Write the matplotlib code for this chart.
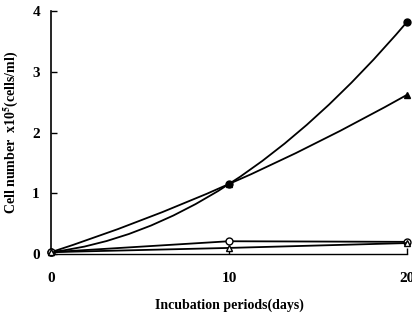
import numpy as np
import matplotlib
matplotlib.use("Agg")
import matplotlib.pyplot as plt
from matplotlib.path import Path
from matplotlib.patches import PathPatch

plt.rcParams["font.family"] = ["Liberation Serif", "DejaVu Serif"]
plt.rcParams["font.weight"] = "bold"

# incubation periods (days) and cell counts
days = [0, 10, 20]
filled_circle = [0.03, 1.15, 3.82]
filled_triangle = [0.03, 1.15, 2.62]
open_circle = [0.03, 0.21, 0.20]
open_triangle = [0.03, 0.10, 0.18]

x_ticks = [0, 10, 20]
y_ticks = [0, 1, 2, 3, 4]


def smooth_line(ax, xs, ys):
    # quadratic bezier through the three points
    p0 = np.array([xs[0], ys[0]])
    p1 = np.array([xs[1], ys[1]])
    p2 = np.array([xs[2], ys[2]])
    ctrl = 2 * p1 - (p0 + p2) / 2
    path = Path([p0, ctrl, p2], [Path.MOVETO, Path.CURVE3, Path.CURVE3])
    ax.add_patch(PathPatch(path, fill=False, lw=1.3, color="black", clip_on=False))


fig = plt.figure(figsize=(4.12, 3.16), dpi=100)
ax = fig.add_axes([51 / 412, 62 / 316, 356 / 412, 243 / 316])

# the two growing series are drawn as smooth curves
for ys, mk in [(filled_circle, "o"), (filled_triangle, "^")]:
    smooth_line(ax, days, ys)
    ax.plot(days, ys, ls="none", marker=mk, ms=5, mfc="black", mec="black",
            clip_on=False, zorder=3)

# flat series: plain lines
for ys, mk in [(open_circle, "o"), (open_triangle, "^")]:
    ax.plot(days, ys, color="black", lw=1.3, marker=mk, ms=5, mfc="white",
            mec="black", mew=1.0, clip_on=False, zorder=3)

ax.set_xlim(0, 20)
ax.set_ylim(0, 4)
ax.set_xticks(x_ticks)
ax.set_yticks(y_ticks)
ax.spines["top"].set_visible(False)
ax.spines["right"].set_visible(False)
ax.spines["left"].set_linewidth(1.2)
ax.spines["bottom"].set_linewidth(1.0)
ax.tick_params(axis="y", direction="in", length=4, width=1, pad=8, labelsize=11)
ax.tick_params(axis="x", direction="in", length=4, width=1, pad=13, labelsize=11)
for lbl in ax.get_xticklabels() + ax.get_yticklabels():
    lbl.set_fontweight("bold")

ax.set_xlabel("Incubation periods(days)", fontsize=10, fontweight="bold", labelpad=10)
ax.set_ylabel(r"Cell number  x10$^{\mathbf{5}}$(cells/ml)", fontsize=10,
              fontweight="bold", labelpad=9)
ax.yaxis.label.set_math_fontfamily("stix")

fig.savefig("out.png", dpi=100)
